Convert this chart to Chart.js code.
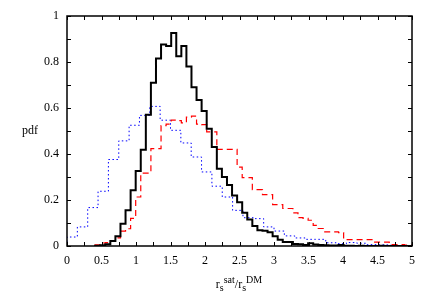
<!DOCTYPE html>
<html>
<head>
<meta charset="utf-8">
<script src="https://cdn.jsdelivr.net/npm/chart.js@4"></script>
<style>
  body { margin: 0; background: #fff; }
  #wrap { position: relative; width: 436px; height: 305px; }
  .lbl { position: absolute; font-family: "Liberation Serif", serif; font-size: 12px; color: #000; white-space: nowrap; }
  .lbl sub, .lbl sup { font-size: 10px; }
</style>
</head>
<body>
<div id="wrap">
  <canvas id="chart" width="436" height="305"></canvas>
  <div class="lbl" id="ylab" style="left:22px; top:123px;">pdf</div>
  <div class="lbl" id="xlab" style="left:239px; top:274px; transform:translateX(-50%);">r<sub>s</sub><sup>sat</sup>/r<sub>s</sub><sup>DM</sup></div>
</div>
<script>
// fine bins (black, red): first edge and width
var fineStart = 0.4075;
var fineWidth = 0.0735;
// coarse bins (blue)
var coarseStart = 0;
var coarseWidth = 0.15;

var blackValues = [0, 0.001, 0.003, 0.008, 0.022, 0.042, 0.097, 0.155, 0.242, 0.326,
	0.419, 0.571, 0.71, 0.815, 0.876, 0.87, 0.926, 0.825, 0.87, 0.78,
	0.69, 0.635, 0.587, 0.51, 0.43, 0.336, 0.30, 0.265, 0.22, 0.19,
	0.145, 0.115, 0.087, 0.068, 0.066, 0.06, 0.042, 0.027, 0.017, 0.017,
	0.009, 0.008, 0.004, 0.012, 0.006, 0.004, 0.003, 0.002, 0.002, 0.004,
	0.001, 0.001, 0, 0.001, 0, 0, 0, 0.001, 0, 0, 0, 0, 0];

var redValues = [0.002, 0.005, 0.013, 0.015, 0.02, 0.035, 0.065, 0.075, 0.12, 0.213,
	0.317, 0.317, 0.423, 0.423, 0.523, 0.53, 0.547, 0.545, 0.535, 0.56,
	0.565, 0.53, 0.528, 0.496, 0.496, 0.42, 0.42, 0.42, 0.42, 0.343,
	0.297, 0.297, 0.245, 0.245, 0.223, 0.223, 0.18, 0.18, 0.163, 0.163,
	0.144, 0.123, 0.12, 0.112, 0.09, 0.076, 0.061, 0.061, 0.061, 0.058,
	0.028, 0.028, 0.028, 0.028, 0.028, 0.028, 0.017, 0.017, 0.017, 0.006,
	0.006, 0.006, 0.004];

var blueValues = [0.017, 0.039, 0.083, 0.167, 0.238, 0.376, 0.457, 0.525, 0.568, 0.607,
	0.547, 0.503, 0.448, 0.387, 0.322, 0.26, 0.213, 0.155, 0.123, 0.119,
	0.083, 0.065, 0.044, 0.035, 0.029, 0.029, 0.014, 0.01, 0.015, 0.012,
	0.006, 0.005, 0.003, 0.002];

// Turn bin values into step points (left edge, value) plus a closing point.
function steps(values, start, width) {
	var pts = [];
	for (var i = 0; i < values.length; ++i) {
		pts.push({x: start + i * width, y: values[i]});
	}
	pts.push({x: start + values.length * width, y: values[values.length - 1]});
	return pts;
}

// Inward ticks on all four sides plus the frame.
var frame = {
	id: 'frame',
	afterDraw: function(chart) {
		var ctx = chart.ctx, a = chart.chartArea;
		var x = chart.scales.x, y = chart.scales.y;
		ctx.save();
		ctx.strokeStyle = '#000';
		ctx.lineWidth = 1;
		ctx.beginPath();
		x.ticks.forEach(function(t) {
			var px = Math.round(x.getPixelForValue(t.value)) + 0.5;
			ctx.moveTo(px, a.bottom); ctx.lineTo(px, a.bottom - 4);
			ctx.moveTo(px, a.top); ctx.lineTo(px, a.top + 4);
		});
		y.ticks.forEach(function(t) {
			var py = Math.round(y.getPixelForValue(t.value)) + 0.5;
			ctx.moveTo(a.left, py); ctx.lineTo(a.left + 4, py);
			ctx.moveTo(a.right, py); ctx.lineTo(a.right - 4, py);
		});
		ctx.stroke();
		ctx.lineWidth = 1.5;
		ctx.strokeRect(a.left, a.top, a.right - a.left, a.bottom - a.top);
		ctx.restore();
	}
};

var font = {family: '"Liberation Serif", serif', size: 12};

new Chart(document.getElementById("chart"), {
	type: 'line',
	data: {
		datasets: [
			{
				data: steps(blackValues, fineStart, fineWidth),
				borderColor: '#000000',
				borderWidth: 2,
				stepped: 'after'
			},
			{
				data: steps(redValues, fineStart, fineWidth),
				borderColor: '#ff0000',
				borderWidth: 1.2,
				borderDash: [6, 4],
				stepped: 'after'
			},
			{
				data: steps(blueValues, coarseStart, coarseWidth),
				borderColor: '#0000ff',
				borderWidth: 1,
				borderDash: [1.5, 2.5],
				stepped: 'after'
			}
		]
	},
	options: {
		responsive: false,
		animation: false,
		devicePixelRatio: 1,
		layout: { padding: { left: 0, right: 24, top: 16, bottom: 0 } },
		elements: { point: { radius: 0 }, line: { tension: 0, fill: false } },
		plugins: { legend: { display: false }, tooltip: { enabled: false } },
		scales: {
			x: {
				type: 'linear',
				min: 0,
				max: 5,
				grid: { display: false, drawTicks: false },
				border: { display: false },
				afterFit: function(s) { s.height = 59; },
				ticks: {
					stepSize: 0.25,
					autoSkip: false,
					maxRotation: 0,
					padding: 8,
					color: '#000',
					font: font,
					callback: function(v) { return Math.round(v * 4) % 2 === 0 ? String(+v.toFixed(2)) : ''; }
				}
			},
			y: {
				min: 0,
				max: 1,
				grid: { display: false, drawTicks: false },
				border: { display: false },
				afterFit: function(s) { s.width = 67; },
				ticks: {
					stepSize: 0.1,
					autoSkip: false,
					padding: 8,
					color: '#000',
					font: font,
					callback: function(v) { return Math.round(v * 10) % 2 === 0 ? String(+v.toFixed(1)) : ''; }
				}
			}
		}
	},
	plugins: [frame]
});
</script>
</body>
</html>
